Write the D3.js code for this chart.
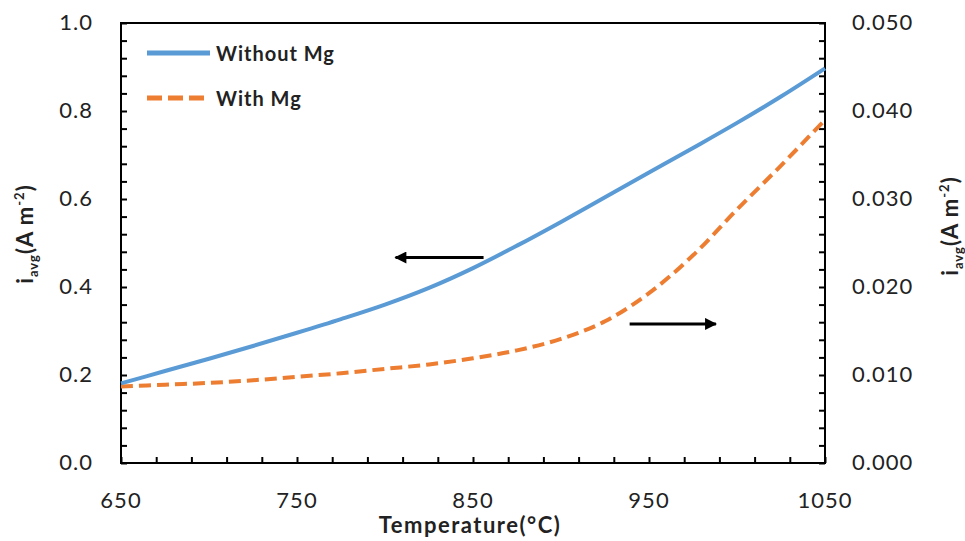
<!DOCTYPE html>
<html>
<head>
<meta charset="utf-8">
<script src="https://cdn.jsdelivr.net/npm/d3@7"></script>
<style>
	body { margin: 0; background: #fff; }
	text { font-family: Lato, "Open Sans", sans-serif; fill: #222; }
</style>
</head>
<body>
<div id="chart"></div>
<script>
// values
var temps = [650, 675, 700, 725, 750, 775, 800, 825, 850, 875, 900, 925, 950, 975, 1000, 1025, 1050];
var withoutMg = [0.181, 0.209, 0.237, 0.266, 0.296, 0.327, 0.360, 0.398, 0.443, 0.494, 0.548, 0.604, 0.660, 0.716, 0.773, 0.833, 0.897];
var withMg = [0.0087, 0.0089, 0.0091, 0.0094, 0.0098, 0.0102, 0.0107, 0.0112, 0.0119, 0.0128, 0.0141, 0.0161, 0.0193, 0.0236, 0.0288, 0.0338, 0.0390];

var xTickLabels = [650, 750, 850, 950, 1050];
var leftTickLabels = [0, 0.2, 0.4, 0.6, 0.8, 1.0];
var rightTickLabels = [0, 0.01, 0.02, 0.03, 0.04, 0.05];
var seriesNames = ["Without Mg", "With Mg"];

// arrows in data units
var arrows = [
	{from: 856, to: 806, value: 0.467, axis: "left"},
	{from: 939, to: 988, value: 0.0158, axis: "right"}
];

var margin = {top: 23, right: 140, bottom: 78, left: 121},
	W = 965, H = 541,
	width = W - margin.left - margin.right,
	height = H - margin.top - margin.bottom;

var x = d3.scaleLinear().domain([650, 1050]).range([0, width]);
var yL = d3.scaleLinear().domain([0, 1]).range([height, 0]);
var yR = d3.scaleLinear().domain([0, 0.05]).range([height, 0]);

var svg = d3.select("#chart").append("svg")
		.attr("width", W)
		.attr("height", H);

svg.append("defs").append("marker")
		.attr("id", "head")
		.attr("viewBox", "0 0 10 10")
		.attr("refX", 9)
		.attr("refY", 5)
		.attr("markerWidth", 4.2)
		.attr("markerHeight", 4)
		.attr("markerUnits", "strokeWidth")
		.attr("orient", "auto")
	.append("path")
		.attr("d", "M0,0 L10,5 L0,10 Z")
		.attr("fill", "#000");

var g = svg.append("g")
		.attr("transform", `translate(${margin.left},${margin.top})`);

// minor ticks, all pointing inwards
var xMinor = d3.range(650, 1051, 20);
var yMinor = d3.range(0, 1.0001, 0.04);

function cleanTicks(a) {
	a.select(".domain").remove();
	a.selectAll("line").attr("stroke", "#000").attr("stroke-width", 2);
}

g.append("g")
		.attr("transform", `translate(0,${height})`)
		.call(d3.axisTop(x).tickValues(xMinor).tickSize(6).tickFormat(""))
		.call(cleanTicks);

g.append("g")
		.call(d3.axisRight(yL).tickValues(yMinor).tickSize(6).tickFormat(""))
		.call(cleanTicks);

g.append("g")
		.attr("transform", `translate(${width},0)`)
		.call(d3.axisLeft(yL).tickValues(yMinor).tickSize(6).tickFormat(""))
		.call(cleanTicks);

// frame
g.append("rect")
		.attr("width", width)
		.attr("height", height)
		.attr("fill", "none")
		.attr("stroke", "#000")
		.attr("stroke-width", 2);

// tick labels
g.selectAll(".xlab")
		.data(xTickLabels)
	.enter().append("text")
		.attr("x", d => x(d))
		.attr("y", height + 45)
		.attr("text-anchor", "middle")
		.style("font-size", "22px")
		.style("letter-spacing", "1px")
		.text(d => d);

g.selectAll(".ylab")
		.data(leftTickLabels)
	.enter().append("text")
		.attr("x", -28)
		.attr("y", d => yL(d) + 7)
		.attr("text-anchor", "end")
		.style("font-size", "22px")
		.style("letter-spacing", "1px")
		.text(d => d.toFixed(1));

g.selectAll(".rlab")
		.data(rightTickLabels)
	.enter().append("text")
		.attr("x", width + 27)
		.attr("y", d => yR(d) + 7)
		.attr("text-anchor", "start")
		.style("font-size", "22px")
		.style("letter-spacing", "1px")
		.text(d => d.toFixed(3));

// axis titles
g.append("text")
		.attr("x", width / 2 - 3)
		.attr("y", height + 70)
		.attr("text-anchor", "middle")
		.style("font-size", "22px")
		.style("font-weight", "bold")
		.style("letter-spacing", "1.5px")
		.text("Temperature(°C)");

function yTitle(sel) {
	sel.style("font-size", "22px")
		.style("font-weight", "bold")
		.style("letter-spacing", "1px")
		.attr("text-anchor", "middle");
	sel.append("tspan").text("i");
	sel.append("tspan").attr("dy", 5).style("font-size", "13px").text("avg");
	sel.append("tspan").attr("dy", -5).text("(A m");
	sel.append("tspan").attr("dy", -9).style("font-size", "13px").text("-2");
	sel.append("tspan").attr("dy", 9).text(")");
}

svg.append("text")
		.attr("transform", "translate(33,234) rotate(-90)")
		.call(yTitle);

svg.append("text")
		.attr("transform", "translate(958,226) rotate(-90)")
		.call(yTitle);

// lines
var lineL = d3.line()
		.x((d, i) => x(temps[i]))
		.y(d => yL(d))
		.curve(d3.curveCatmullRom);
var lineR = d3.line()
		.x((d, i) => x(temps[i]))
		.y(d => yR(d))
		.curve(d3.curveCatmullRom);

g.append("path")
		.datum(withMg)
		.attr("d", lineR)
		.attr("fill", "none")
		.attr("stroke", "#ED7D31")
		.attr("stroke-width", 4)
		.attr("stroke-dasharray", "12,6");

g.append("path")
		.datum(withoutMg)
		.attr("d", lineL)
		.attr("fill", "none")
		.attr("stroke", "#5B9BD5")
		.attr("stroke-width", 4);

// arrows
g.selectAll(".arrow")
		.data(arrows)
	.enter().append("line")
		.attr("x1", d => x(d.from))
		.attr("x2", d => x(d.to))
		.attr("y1", d => (d.axis == "left" ? yL : yR)(d.value))
		.attr("y2", d => (d.axis == "left" ? yL : yR)(d.value))
		.attr("stroke", "#000")
		.attr("stroke-width", 3)
		.attr("marker-end", "url(#head)");

// legend
var legend = svg.append("g")
		.attr("transform", "translate(147,53)");

var item = legend.selectAll("g")
		.data(seriesNames)
	.enter().append("g")
		.attr("transform", (d, i) => `translate(0,${i * 45})`);

item.append("line")
		.attr("x1", 0)
		.attr("x2", (d, i) => i ? 61 : 63)
		.attr("stroke", (d, i) => i ? "#ED7D31" : "#5B9BD5")
		.attr("stroke-width", 5)
		.attr("stroke-dasharray", (d, i) => i ? "15,6" : null);

item.append("text")
		.attr("x", 69)
		.attr("y", 8)
		.style("font-size", "20px")
		.style("font-weight", "bold")
		.style("letter-spacing", "1px")
		.text(d => d);
</script>
</body>
</html>
